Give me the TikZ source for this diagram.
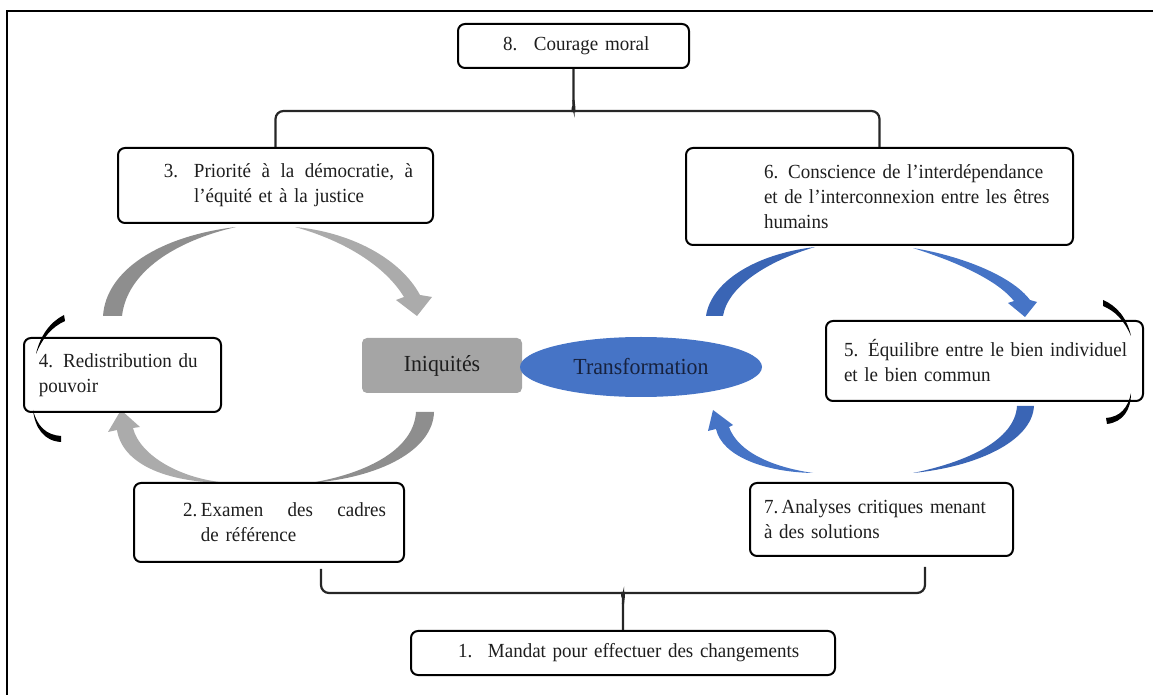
\documentclass[tikz,border=0pt]{standalone}
\usepackage{fontspec}
\setmainfont{Liberation Serif}[FakeStretch=0.95]
\usetikzlibrary{shapes.geometric,calc}
\definecolor{darkgrey}{HTML}{8E8E8E}
\definecolor{lightgrey}{HTML}{ABABAB}
\definecolor{rectgrey}{HTML}{A5A5A5}
\definecolor{darkblue}{HTML}{3A65B5}
\definecolor{midblue}{HTML}{4674C6}
\definecolor{navy}{HTML}{17223F}
\definecolor{ink}{HTML}{1E1E1E}

\begin{document}
\begin{tikzpicture}[x=0.5pt,y=-0.5pt,
    main box/.style={draw,line width=1pt,rounded corners=3.5pt,fill=white,
      anchor=north west,inner xsep=0pt,inner ysep=0pt,align=left,text=ink,
      font=\fontsize{10}{12.5}\selectfont},
    ind/.style={execute at begin node={\leftskip=#1\relax}},
    bracket/.style={line width=1.1pt,rounded corners=4pt,black!85},
    mid font/.style={font=\fontsize{11.5}{13}\selectfont}]
\useasboundingbox (0,0) rectangle (1153,695);
\draw[line width=1.2pt] (7,695) -- (7,11) -- (1153,11);

% cycle arrows, left
\fill[darkgrey] (103,316) .. controls (106,270) and (160,236) .. (236,227) .. controls (175,241) and (127,272) .. (122,316) -- cycle;
\fill[lightgrey] (295,227) .. controls (350,232) and (400,258) .. (420,295) -- (432,297) -- (417,316) -- (396,300) -- (404,297) .. controls (385,266) and (345,241) .. (295,227) -- cycle;
\fill[darkgrey] (434,412) .. controls (433,450) and (380,478) .. (310,483) .. controls (370,473) and (414,448) .. (416,412) -- cycle;
\fill[lightgrey] (230,483) .. controls (162,483) and (122,462) .. (117,430) -- (108,432) -- (121,410) -- (140,427) -- (133,428) .. controls (140,456) and (182,480) .. (230,483) -- cycle;
% cycle arrows, right
\fill[darkblue] (706,316) .. controls (711,282) and (755,254) .. (815,247) .. controls (768,261) and (728,286) .. (723,316) -- cycle;
\fill[midblue] (913,248) .. controls (962,256) and (1012,276) .. (1030,300) -- (1037,302) -- (1025,317) -- (1008,303) -- (1014,301) .. controls (998,281) and (960,263) .. (913,248) -- cycle;
\fill[darkblue] (1034,406) .. controls (1032,442) and (975,467) .. (913,473) .. controls (967,462) and (1015,440) .. (1017,406) -- cycle;
\fill[midblue] (813,473) .. controls (764,472) and (722,456) .. (716,429) -- (708,431) -- (713,410) -- (733,425) -- (729,427) .. controls (738,452) and (772,467) .. (813,473) -- cycle;

\node[main box,text width=115.5pt,minimum height=22pt,ind=22.5pt] (b8) at (457,23)
  {\makebox[15.5pt][l]{8.}Courage moral};
\node[main box,text width=157.5pt,minimum height=37.5pt,ind=23pt] (b3) at (117,147)
  {\makebox[15pt][l]{3.}\hbox to 109.5pt{Priorité\hfill à\hfill la\hfill démocratie,\hfill à}\\\hspace*{15pt}l’équité et à la justice};
\node[main box,text width=193.5pt,minimum height=48.5pt,ind=39pt] (b6) at (685,147)
  {6. Conscience de l’interdépendance\\et de l’interconnexion entre les êtres\\humains};
\node[main box,text width=98.5pt,minimum height=37pt,ind=7.5pt] (b4) at (23,337)
  {4. Redistribution du\\pouvoir};
\node[main box,text width=158.5pt,minimum height=40pt,ind=9pt] (b5) at (825,320)
  {5. Équilibre entre le bien individuel\\et le bien commun};
\node[main box,text width=135pt,minimum height=39.5pt,ind=24.5pt] (b2) at (133,482)
  {\makebox[9pt][l]{2.}\hbox to 92.5pt{Examen\hfill des\hfill cadres}\\\hspace*{9pt}de référence};
\node[main box,text width=131.5pt,minimum height=36.5pt,ind=7pt] (b7) at (749,482)
  {7.\,Analyses critiques menant\\à des solutions};
\node[main box,text width=212pt,minimum height=22pt,ind=23.5pt] (b1) at (410,630)
  {\makebox[15pt][l]{1.}Mandat pour effectuer des changements};

\node[fill=rectgrey,rounded corners=2.5pt,minimum width=80pt,minimum height=27.5pt,
  mid font,text=ink] (iniq) at (442,365.5) {Iniquités};
\node[ellipse,fill=midblue,minimum width=121pt,minimum height=30pt,inner sep=0pt,
  mid font,text=navy] (transf) at (641,367) {Transformation};

% small black marks round 4 and 5
\fill (64,315) .. controls (50,322) and (40,336) .. (36,354) .. controls (43,337) and (52,327) .. (65,321) -- cycle;
\fill (33,410) .. controls (37,426) and (46,435) .. (61,436) -- (61,442) .. controls (44,441) and (35,428) .. (33,410) -- cycle;
\fill (1103,300) .. controls (1117,306) and (1127,318) .. (1131,336) .. controls (1124,320) and (1115,311) .. (1103,306) -- cycle;
\fill (1131,393) .. controls (1128,408) and (1120,417) .. (1106,418) -- (1107,424) .. controls (1123,422) and (1131,410) .. (1131,393) -- cycle;

% brackets
\coordinate (l2) at ($(b2.south)+(52,6)$);
\coordinate (r7) at ($(b7.south)+(43.5,10)$);
\draw[bracket] (b3.north) |- ($(b8.south)+(-8,42)$) .. controls +(6,0) and +(0,4) .. ($(b8.south)+(0,31)$) -- (b8.south);
\draw[bracket] (b6.north) |- ($(b8.south)+(8,42)$) .. controls +(-6,0) and +(0,4) .. ($(b8.south)+(0,31)$);
\draw[bracket] (l2) |- ($(b1.north)+(-8,-37)$) .. controls +(6,0) and +(0,-4) .. ($(b1.north)+(0,-26)$) -- (b1.north);
\draw[bracket] (r7) |- ($(b1.north)+(8,-37)$) .. controls +(-6,0) and +(0,-4) .. ($(b1.north)+(0,-26)$);
\end{tikzpicture}
\end{document}
